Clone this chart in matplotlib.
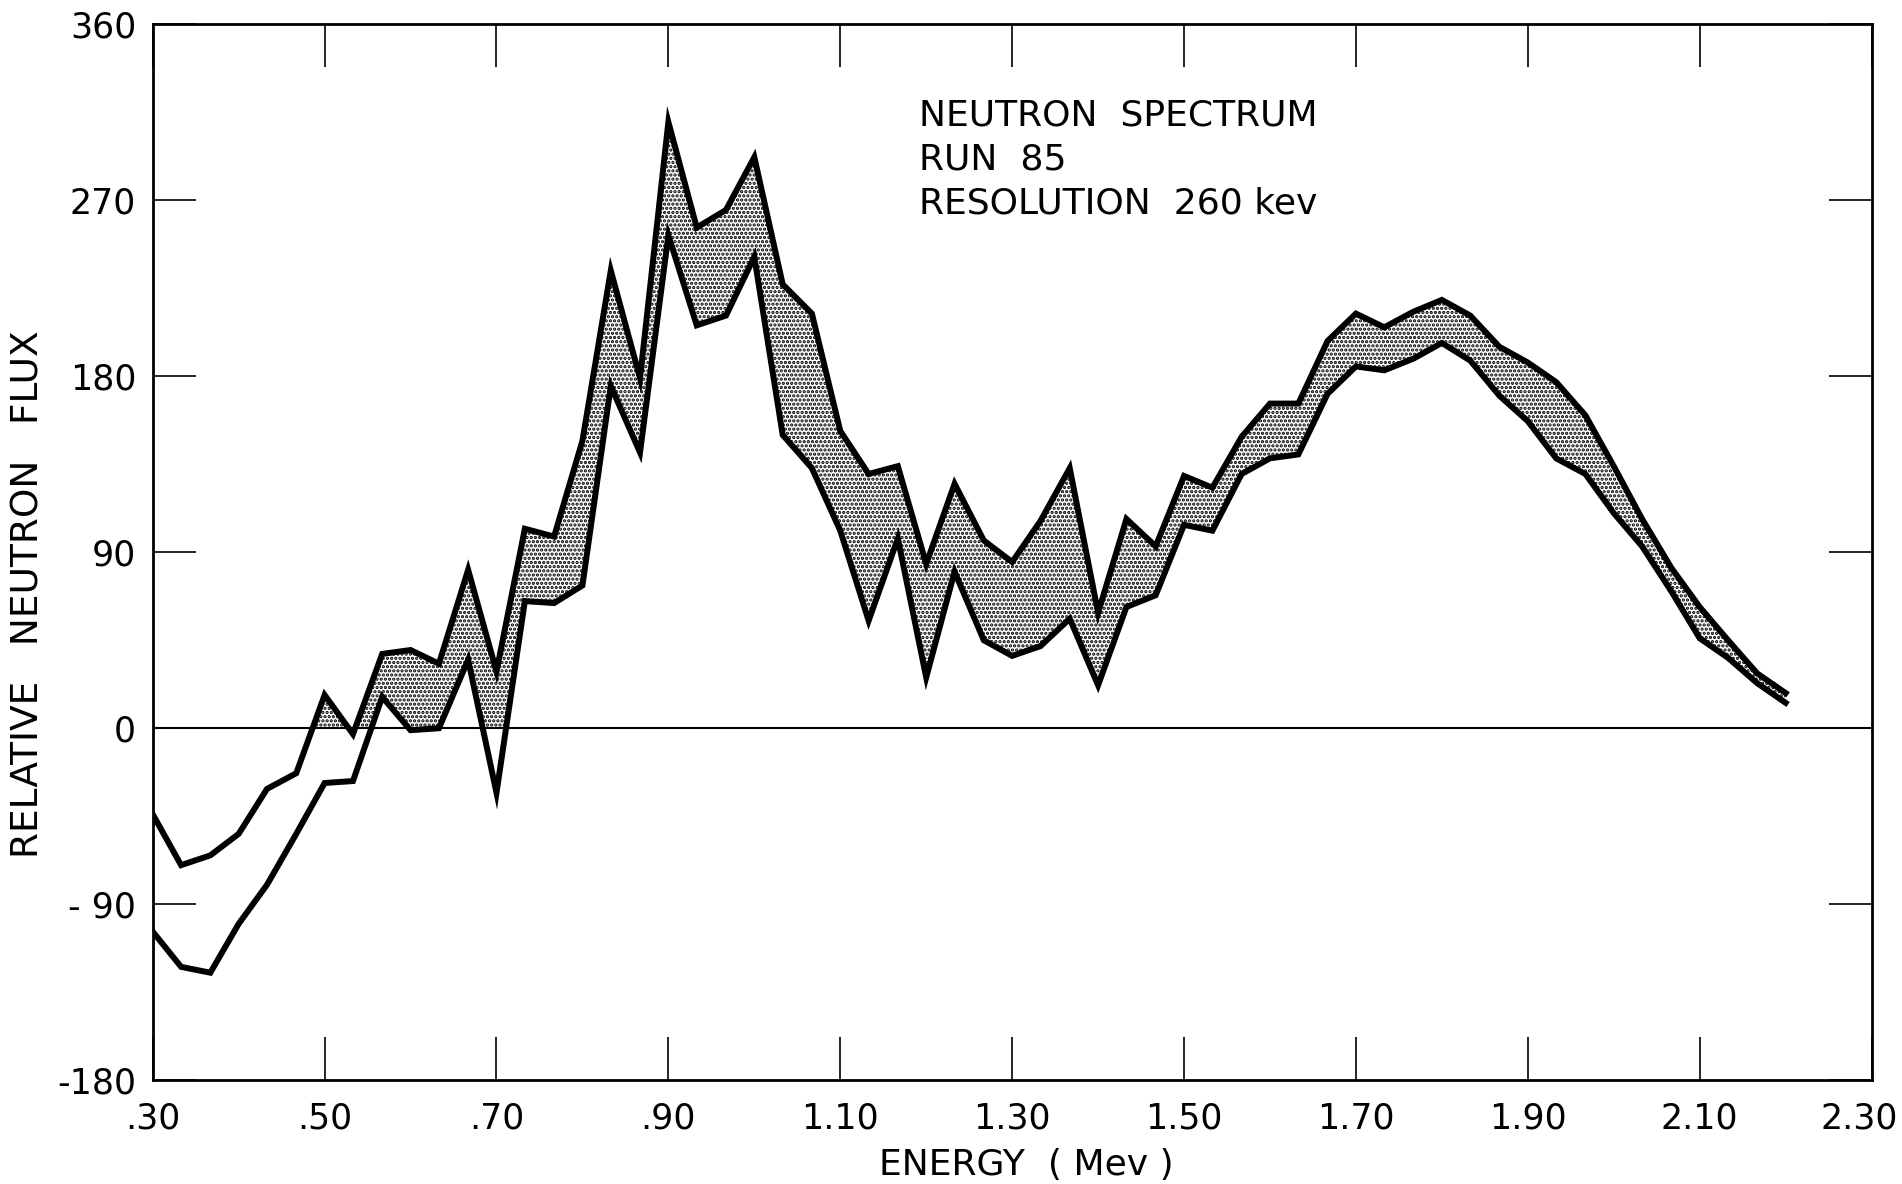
import matplotlib.pyplot as plt
import matplotlib.transforms as mtransforms
import numpy as np

plt.rcParams['font.family'] = ['DejaVu Sans']
plt.rcParams['hatch.linewidth'] = 1.6

# energy grid (MeV)
energy = [0.300, 0.333, 0.367, 0.400, 0.433, 0.467, 0.500, 0.533, 0.567, 0.600,
          0.633, 0.667, 0.700, 0.733, 0.767, 0.800, 0.833, 0.867, 0.900, 0.933,
          0.967, 1.000, 1.033, 1.067, 1.100, 1.133, 1.167, 1.200, 1.233, 1.267,
          1.300, 1.333, 1.367, 1.400, 1.433, 1.467, 1.500, 1.533, 1.567, 1.600,
          1.633, 1.667, 1.700, 1.733, 1.767, 1.800, 1.833, 1.867, 1.900, 1.933,
          1.967, 2.000, 2.033, 2.067, 2.100, 2.133, 2.167, 2.200]

flux_upper = [-44, -70, -65, -54, -31, -23, 17, -3, 38, 40,
              33, 81, 29, 102, 98, 147, 234, 179, 310, 256,
              265, 292, 227, 212, 152, 130, 134, 84, 125, 96,
              85, 106, 133, 59, 107, 93, 129, 123, 149, 166,
              166, 198, 212, 205, 213, 219, 211, 195, 187, 177,
              160, 134, 107, 82, 62, 45, 28, 18]

flux_lower = [-104, -122, -125, -100, -80, -54, -28, -27, 16, -1,
              0, 35, -33, 65, 64, 73, 175, 141, 252, 206,
              211, 241, 150, 133, 101, 55, 97, 26, 80, 45,
              37, 42, 56, 22, 62, 68, 104, 101, 130, 138,
              140, 171, 185, 183, 189, 197, 188, 170, 157, 138,
              130, 110, 93, 70, 46, 36, 23, 13]

xticks = [0.30, 0.50, 0.70, 0.90, 1.10, 1.30, 1.50, 1.70, 1.90, 2.10, 2.30]
xlabels = ['.30', '.50', '.70', '.90', '1.10', '1.30', '1.50', '1.70', '1.90', '2.10', '2.30']
yticks = [-180, -90, 0, 90, 180, 270, 360]
ylabels = ['-180', '- 90', '0', '90', '180', '270', '360']

fig = plt.figure(figsize=(19.02, 11.84), dpi=100)
ax = fig.add_axes([0.0803, 0.0876, 0.9037, 0.892])

# shaded band only above the zero line
xf = np.linspace(energy[0], energy[-1], 3000)
uf = np.interp(xf, energy, flux_upper)
lf = np.interp(xf, energy, flux_lower)
ax.fill_between(xf, np.maximum(lf, 0), np.maximum(uf, 0), where=uf > 0,
                facecolor='white', edgecolor='black', hatch='....', linewidth=0)

ax.plot(energy, flux_upper, color='black', lw=4.3, solid_joinstyle='miter')
ax.plot(energy, flux_lower, color='black', lw=4.3, solid_joinstyle='miter')
ax.axhline(0, color='black', lw=1.5)

ax.set_xlim(0.30, 2.30)
ax.set_ylim(-180, 360)
ax.set_xticks(xticks)
ax.set_xticklabels(xlabels)
ax.set_yticks(yticks)
ax.set_yticklabels(ylabels)
ax.tick_params(direction='in', length=31, width=1.2, labelsize=25,
               top=True, right=True, pad=12)
ax.tick_params(axis='x', pad=15)
for s in ax.spines.values():
    s.set_linewidth(2)

# keep the last x label inside the figure
last = ax.get_xticklabels()[-1]
last.set_transform(last.get_transform() +
                   mtransforms.ScaledTranslation(-9 / 72, 0, fig.dpi_scale_trans))

ax.set_xlabel('ENERGY  ( Mev )', fontsize=26)
ax.xaxis.set_label_coords(0.5085, -0.064)
ax.set_ylabel('RELATIVE   NEUTRON   FLUX', fontsize=27)
ax.yaxis.set_label_coords(-0.062, 0.46)

ax.text(0.4458, 0.930, 'NEUTRON  SPECTRUM', transform=ax.transAxes,
        fontsize=26, va='top')
ax.text(0.4458, 0.888, 'RUN  85', transform=ax.transAxes,
        fontsize=26, va='top')
ax.text(0.4458, 0.846, 'RESOLUTION  260 kev', transform=ax.transAxes,
        fontsize=26, va='top')

fig.savefig('out.png', dpi=100)
